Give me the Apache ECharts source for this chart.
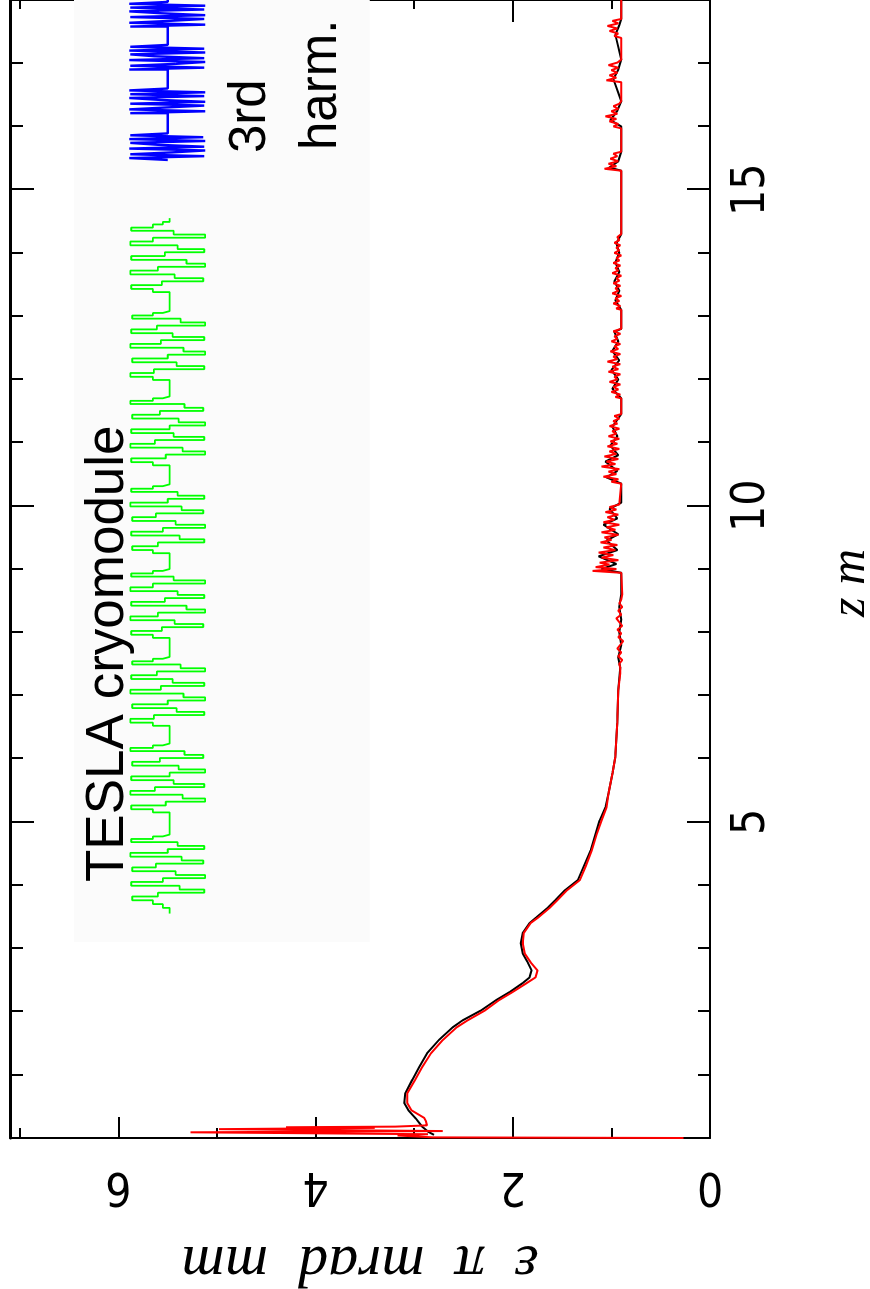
<!DOCTYPE html>
<html>
<head>
<meta charset="utf-8">
<title>TESLA cryomodule emittance</title>
<script src="https://cdn.jsdelivr.net/npm/echarts@6/dist/echarts.min.js"></script>
<style>
  html, body { margin: 0; padding: 0; background: #fff; }
  body { width: 870px; height: 1289px; overflow: hidden; position: relative; }
  /* the chart is drawn lying on its side: plot in 1289x870, then turned */
  #chart {
    position: absolute; left: 0; top: 0;
    width: 1289px; height: 870px;
    transform-origin: 0 0;
    transform: translateY(1289px) rotate(-90deg);
  }
</style>
</head>
<body>
<div id="chart"></div>
<script>
// emittance along z (red), second run (black), cavity field (green), 3rd harmonic (blue)
const redLine = [
  [0.00,0.27],[0.01,2.81],[0.04,3.17],[0.06,2.86],[0.09,5.27],[0.11,2.71],[0.14,4.98],[0.16,3.40],[0.17,4.30],[0.18,3.19],[0.20,2.87],
  [0.26,2.88],[0.32,2.90],[0.44,3.03],[0.55,3.07],[0.71,3.07],[0.92,2.99],[1.12,2.92],[1.34,2.83],[1.55,2.71],[1.75,2.57],[1.86,2.46],
  [2.02,2.28],[2.18,2.14],[2.31,2.00],[2.45,1.86],[2.54,1.77],[2.65,1.75],[2.78,1.82],[2.92,1.88],[3.08,1.90],[3.24,1.89],[3.40,1.82],
  [3.49,1.74],[3.65,1.62],[3.76,1.55],[3.92,1.45],[4.08,1.32],[4.30,1.26],[4.55,1.20],[4.80,1.15],[5.02,1.10],[5.23,1.05],[5.45,1.03],
  [5.77,0.99],[6.02,0.96],[6.29,0.95],[6.56,0.94],[7.08,0.93],[7.35,0.91],[7.44,0.91],
  [7.50,0.92],[7.56,0.89],[7.62,0.93],[7.68,0.90],[7.74,0.94],[7.80,0.91],[7.86,0.88],[7.92,0.93],[7.98,0.90],[8.04,0.94],[8.10,0.89],
  [8.16,0.92],[8.22,0.95],[8.28,0.90],[8.34,0.93],[8.40,0.89],[8.46,0.92],[8.52,0.90],[8.60,0.89],
  [8.94,0.90],[8.97,1.19],[9.00,0.95],[9.03,1.16],[9.07,1.02],[9.10,1.12],[9.14,0.93],[9.18,1.10],[9.22,0.98],[9.26,1.13],[9.30,0.96],
  [9.34,1.08],[9.38,0.94],[9.42,1.11],[9.46,1.00],[9.50,1.07],[9.54,0.93],[9.58,1.10],[9.62,0.96],[9.66,1.05],[9.70,0.92],[9.74,1.08],
  [9.78,0.97],[9.82,1.04],[9.86,0.93],[9.90,1.06],[9.94,0.95],[9.98,1.02],[10.02,0.92],[10.05,0.90],
  [10.35,0.90],[10.38,1.00],[10.42,0.93],[10.46,1.08],[10.50,0.95],[10.54,1.03],[10.58,0.92],[10.62,1.10],[10.66,0.96],[10.70,1.05],
  [10.74,0.93],[10.78,1.07],[10.82,0.95],[10.86,1.02],[10.90,0.92],[10.94,1.04],[10.98,0.94],[11.02,1.01],[11.06,0.92],[11.10,1.03],
  [11.14,0.95],[11.18,0.99],[11.22,0.92],[11.26,1.02],[11.30,0.94],[11.34,0.98],[11.38,0.92],[11.42,0.97],[11.45,0.90],
  [11.70,0.90],[11.72,0.96],[11.76,0.91],[11.80,1.00],[11.84,0.93],[11.88,0.98],[11.92,0.91],[11.96,1.02],[12.00,0.94],[12.04,0.97],
  [12.08,0.91],[12.12,1.03],[12.16,0.93],[12.20,0.99],[12.24,0.91],[12.28,1.04],[12.32,0.94],[12.36,0.98],[12.40,0.91],[12.44,1.01],
  [12.48,0.93],[12.52,0.97],[12.56,0.91],[12.60,1.00],[12.64,0.94],[12.68,0.97],[12.72,0.91],[12.76,0.98],[12.80,0.90],
  [13.10,0.90],[13.12,0.95],[13.16,0.91],[13.20,0.98],[13.24,0.92],[13.28,0.96],[13.32,0.90],[13.36,0.99],[13.40,0.93],[13.44,0.96],
  [13.48,0.91],[13.52,0.98],[13.56,0.92],[13.60,0.95],[13.64,0.90],[13.68,0.99],[13.72,0.93],[13.76,0.96],[13.80,0.91],[13.84,0.98],
  [13.88,0.92],[13.92,0.95],[13.96,0.90],[14.00,0.97],[14.04,0.92],[14.08,0.95],[14.12,0.91],[14.16,0.97],[14.20,0.92],[14.25,0.94],
  [14.30,0.90],
  [15.30,0.90],[15.33,1.07],[15.37,0.95],[15.41,1.03],[15.45,0.93],[15.49,1.01],[15.53,0.94],[15.57,0.98],[15.60,0.90],
  [15.97,0.90],[16.00,0.98],[16.04,0.93],[16.08,1.02],[16.12,0.95],[16.16,1.06],[16.20,0.94],[16.24,1.00],[16.28,0.93],[16.32,0.98],
  [16.36,0.92],[16.40,0.90],
  [16.70,0.90],[16.73,1.05],[16.77,0.95],[16.81,1.02],[16.85,0.94],[16.89,1.00],[16.93,0.93],[16.97,1.03],[17.01,0.94],[17.06,0.90],
  [17.40,0.90],[17.43,0.97],[17.47,0.93],[17.51,1.02],[17.55,0.94],[17.59,1.04],[17.63,0.93],[17.67,0.99],[17.70,0.90],[18.00,0.90]
];

const blackLine = [
  [0.05,2.80],[0.10,2.86],[0.18,2.92],[0.30,2.98],[0.44,3.06],[0.55,3.10],[0.71,3.09],[0.92,3.02],[1.12,2.95],[1.34,2.87],[1.55,2.75],
  [1.75,2.61],[1.86,2.51],[2.02,2.32],[2.18,2.17],[2.31,2.03],[2.45,1.90],[2.54,1.83],[2.65,1.81],[2.78,1.85],[2.92,1.90],[3.08,1.92],
  [3.24,1.90],[3.40,1.83],[3.49,1.76],[3.65,1.64],[3.76,1.57],[3.92,1.47],[4.08,1.34],[4.55,1.21],[5.02,1.12],[5.23,1.06],[5.45,1.03],
  [5.77,0.99],[6.02,0.96],[6.29,0.95],[6.56,0.94],[7.08,0.93],[7.44,0.91],
  [7.60,0.93],[7.80,0.90],[8.00,0.92],[8.20,0.90],[8.40,0.92],[8.60,0.90],[8.94,0.90],[9.00,1.10],[9.08,0.95],[9.20,1.13],[9.30,0.94],
  [9.45,1.05],[9.55,0.93],[9.70,1.08],[9.80,0.94],[9.95,1.02],[10.05,0.90],[10.35,0.90],[10.45,1.05],[10.55,0.94],[10.70,1.06],
  [10.80,0.93],[10.95,1.01],[11.10,0.94],[11.25,0.99],[11.45,0.90],[11.70,0.90],[11.85,0.99],[12.00,0.93],[12.15,1.00],[12.30,0.92],
  [12.45,0.99],[12.60,0.93],[12.75,0.97],[12.80,0.90],[13.10,0.90],[13.25,0.96],[13.40,0.92],[13.55,0.97],[13.70,0.92],[13.85,0.96],
  [14.00,0.92],[14.15,0.95],[14.30,0.90],[15.30,0.90],[15.35,1.02],[15.45,0.93],[15.60,0.90],[16.00,0.90],[16.10,1.01],[16.25,0.94],
  [16.40,0.90],[16.75,0.98],[16.90,0.93],[17.06,0.90],[17.45,0.96],[17.60,0.92],[17.70,0.90],[18.00,0.90]
];

// sampled cavity field, drawn as sample-and-hold steps
const greenLine = [
  [3.55,5.48],[3.64,5.55],[3.70,5.65],
  [3.76,5.86],[3.82,5.60],[3.88,5.13],[3.93,5.38],[3.99,5.87],[4.05,5.55],[4.11,5.12],[4.16,5.42],[4.22,5.86],
  [4.28,5.62],[4.34,5.14],[4.39,5.36],[4.45,5.88],[4.51,5.50],[4.57,5.13],[4.62,5.40],[4.68,5.87],
  [4.73,5.65],[4.77,5.55],[4.80,5.48],[5.15,5.65],
  [5.20,5.87],[5.26,5.52],[5.32,5.12],[5.37,5.35],[5.43,5.88],[5.49,5.63],[5.55,5.13],[5.60,5.44],[5.66,5.87],
  [5.72,5.48],[5.78,5.12],[5.83,5.39],[5.89,5.86],[5.95,5.58],[6.01,5.14],[6.06,5.33],[6.12,5.88],
  [6.17,5.65],[6.21,5.55],[6.24,5.48],[6.52,5.65],
  [6.57,5.88],[6.63,5.64],[6.69,5.13],[6.74,5.41],[6.80,5.86],[6.86,5.50],[6.92,5.12],[6.97,5.34],[7.03,5.88],
  [7.09,5.57],[7.15,5.13],[7.20,5.45],[7.26,5.87],[7.32,5.61],[7.38,5.12],[7.43,5.37],[7.49,5.86],
  [7.54,5.65],[7.58,5.55],[7.61,5.48],[7.91,5.65],
  [7.96,5.87],[8.02,5.56],[8.08,5.14],[8.13,5.43],[8.19,5.88],[8.25,5.60],[8.31,5.12],[8.36,5.31],[8.42,5.87],
  [8.48,5.53],[8.54,5.13],[8.59,5.40],[8.65,5.88],[8.71,5.65],[8.77,5.12],[8.82,5.44],[8.88,5.87],
  [8.93,5.65],[8.97,5.55],[9.00,5.48],[9.25,5.65],
  [9.30,5.86],[9.36,5.60],[9.42,5.13],[9.47,5.38],[9.53,5.87],[9.59,5.55],[9.65,5.12],[9.70,5.42],[9.76,5.86],
  [9.82,5.62],[9.88,5.14],[9.93,5.36],[9.99,5.88],[10.05,5.50],[10.11,5.13],[10.16,5.40],[10.22,5.87],
  [10.27,5.65],[10.31,5.55],[10.34,5.48],[10.64,5.65],
  [10.69,5.87],[10.75,5.52],[10.81,5.12],[10.86,5.35],[10.92,5.88],[10.98,5.63],[11.04,5.13],[11.09,5.44],[11.15,5.87],
  [11.21,5.48],[11.27,5.12],[11.32,5.39],[11.38,5.86],[11.44,5.58],[11.50,5.14],[11.55,5.33],[11.61,5.88],
  [11.66,5.65],[11.70,5.55],[11.73,5.48],[11.99,5.65],
  [12.04,5.88],[12.10,5.64],[12.16,5.13],[12.21,5.41],[12.27,5.86],[12.33,5.50],[12.39,5.12],[12.44,5.34],[12.50,5.88],
  [12.56,5.57],[12.62,5.13],[12.67,5.45],[12.73,5.87],[12.79,5.61],[12.85,5.12],[12.90,5.37],[12.96,5.86],
  [13.01,5.65],[13.05,5.55],[13.08,5.48],[13.38,5.65],
  [13.43,5.87],[13.49,5.56],[13.55,5.14],[13.60,5.43],[13.66,5.88],[13.72,5.60],[13.78,5.12],[13.83,5.31],[13.89,5.87],
  [13.95,5.53],[14.01,5.13],[14.06,5.40],[14.12,5.88],[14.18,5.65],[14.24,5.12],[14.29,5.44],[14.35,5.87],
  [14.40,5.65],[14.45,5.55],[14.49,5.48],[14.55,5.48]
];

const blueLine = [
  [15.47,5.50],
  [15.50,5.89],[15.53,5.13],[15.56,5.88],[15.59,5.45],[15.62,5.12],[15.65,5.89],[15.68,5.13],[15.71,5.60],[15.74,5.88],
  [15.77,5.12],[15.80,5.89],[15.83,5.14],[15.86,5.88],[15.89,5.50],
  [16.21,5.88],[16.24,5.12],[16.27,5.89],[16.30,5.52],[16.33,5.13],[16.36,5.88],[16.39,5.12],[16.42,5.58],[16.45,5.89],
  [16.48,5.13],[16.51,5.88],[16.54,5.12],[16.57,5.89],[16.60,5.50],
  [16.90,5.89],[16.93,5.13],[16.96,5.88],[16.99,5.42],[17.02,5.12],[17.05,5.89],[17.08,5.13],[17.11,5.63],[17.14,5.88],
  [17.17,5.12],[17.20,5.89],[17.23,5.13],[17.26,5.88],[17.29,5.50],
  [17.58,5.88],[17.61,5.12],[17.64,5.89],[17.67,5.48],[17.70,5.13],[17.73,5.88],[17.76,5.12],[17.79,5.56],[17.82,5.89],
  [17.85,5.13],[17.88,5.88],[17.91,5.12],[17.94,5.89],[17.97,5.50],[18.00,5.50]
];

const zTickLabels = [5, 10, 15];
const epsTickLabels = [0, 2, 4, 6];

const tickFont = "'Liberation Sans Narrow', 'DejaVu Sans Condensed', sans-serif";
const nameFont = "'Liberation Serif', 'DejaVu Serif', serif";
const black = '#000';

const chart = echarts.init(document.getElementById('chart'));

function hAxis(pos, step, len, lineW, withLabels) {
  return {
    type: 'value', min: 0, max: 18, interval: step, position: pos,
    axisLine: { show: lineW > 0, onZero: false, lineStyle: { color: black, width: lineW } },
    axisTick: { inside: true, length: len, lineStyle: { color: black, width: 2 } },
    axisLabel: withLabels ? {
      margin: 19, color: black, fontSize: 46, fontFamily: tickFont,
      formatter: v => zTickLabels.indexOf(v) >= 0 ? String(v) : ''
    } : { show: false },
    splitLine: { show: false }
  };
}

function vAxis(pos, step, len, lineW, withLabels) {
  return {
    type: 'value', min: 0, max: 7.1, interval: step, position: pos,
    axisLine: { show: lineW > 0, onZero: false, lineStyle: { color: black, width: lineW } },
    axisTick: { inside: true, length: len, lineStyle: { color: black, width: 2 } },
    axisLabel: withLabels ? {
      margin: 24, rotate: 90, color: black, fontSize: 46, fontFamily: tickFont,
      formatter: v => epsTickLabels.indexOf(v) >= 0 ? String(v) : ''
    } : { show: false },
    splitLine: { show: false }
  };
}

const xMajor = hAxis('bottom', 5, 23, 0, true);
xMajor.name = 'z m';
xMajor.nameLocation = 'middle';
xMajor.nameGap = 116;
xMajor.nameTextStyle = { fontFamily: nameFont, fontStyle: 'italic', fontSize: 50, color: black, padding: [0, 28, 0, 0] };

const yMajor = vAxis('left', 2, 21, 0, true);
yMajor.name = 'ε  π  mrad  mm';
yMajor.nameLocation = 'middle';
yMajor.nameRotate = 90;
yMajor.nameGap = 95;
yMajor.nameTextStyle = { fontFamily: nameFont, fontStyle: 'italic', fontSize: 60, color: black };

const option = {
  animation: false,
  backgroundColor: '#fff',
  grid: { left: 151, right: 0, top: 10, bottom: 160, outerBoundsMode: 'none' },
  xAxis: [
    hAxis('bottom', 1, 12, 2, false),
    xMajor,
    hAxis('top', 1, 13, 3, false),
    hAxis('top', 5, 24, 0, false)
  ],
  yAxis: [
    vAxis('left', 1, 10, 2, false),
    yMajor,
    vAxis('right', 1, 9, 2, false),
    vAxis('right', 2, 22, 0, false)
  ],
  series: [
    {
      name: 'run 2', type: 'line', data: blackLine, symbol: 'none', silent: true,
      lineStyle: { color: '#000', width: 2 },
      markArea: {
        silent: true,
        itemStyle: { color: '#fbfbfb' },
        data: [[{ coord: [3.1, 3.45] }, { coord: [18, 6.45] }]]
      }
    },
    {
      name: 'cryomodule', type: 'line', data: greenLine, symbol: 'none', silent: true, step: 'end',
      lineStyle: { color: '#00ff00', width: 1.8 }
    },
    {
      name: '3rd harm.', type: 'line', data: blueLine, symbol: 'none', silent: true, step: 'end',
      lineStyle: { color: '#0000ff', width: 2.4 }
    },
    {
      name: 'emittance', type: 'line', data: redLine, symbol: 'none', silent: true,
      lineStyle: { color: '#ff0000', width: 2 }
    }
  ],
  graphic: [
    { type: 'text', x: 407, y: 108, z: 50,
      style: { text: 'TESLA cryomodule', font: "53px 'Liberation Sans', Arial, sans-serif", fill: black, align: 'left', verticalAlign: 'middle' } },
    { type: 'text', x: 1136, y: 251, z: 50,
      style: { text: '3rd', font: "51px 'Liberation Sans', Arial, sans-serif", fill: black, align: 'left', verticalAlign: 'middle' } },
    { type: 'text', x: 1139, y: 322, z: 50,
      style: { text: 'harm.', font: "51px 'Liberation Sans', Arial, sans-serif", fill: black, align: 'left', verticalAlign: 'middle' } }
  ]
};

chart.setOption(option);
</script>
</body>
</html>
